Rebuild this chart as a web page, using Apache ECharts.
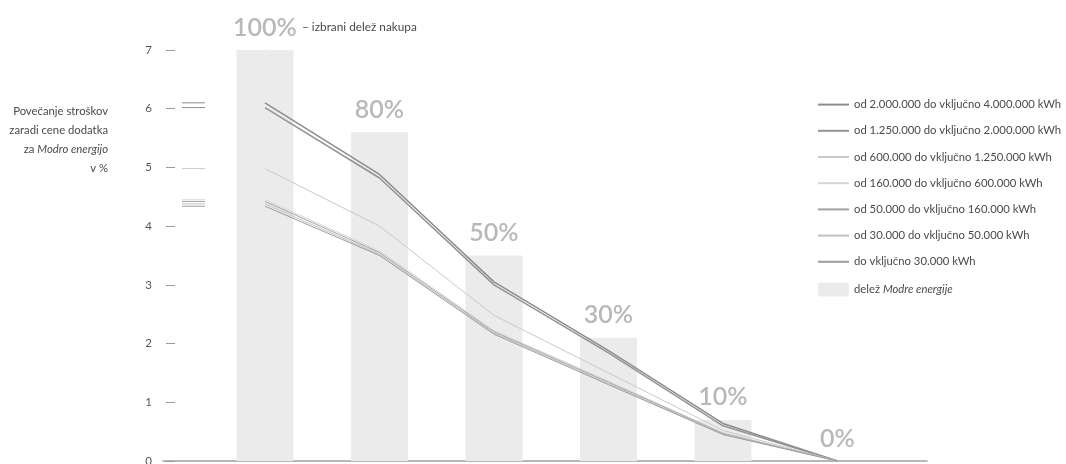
<!DOCTYPE html>
<html>
<head>
<meta charset="utf-8">
<style>
  html, body { margin: 0; padding: 0; background: #ffffff; }
  #chart { width: 1066px; height: 464px; }
</style>
<script src="https://cdn.jsdelivr.net/npm/echarts@6/dist/echarts.min.js"></script>
</head>
<body>
<div id="chart"></div>
<script>
// Share of "Modra energija" in the purchase (percent) – one bar per share
const shares = [100, 80, 50, 30, 10, 0];

// Cost increase in % for each consumption band, at each share
const band1 = [6.10, 4.88, 3.05, 1.88, 0.64, 0]; // 2.000.000 – 4.000.000 kWh
const band2 = [6.02, 4.82, 3.00, 1.84, 0.60, 0]; // 1.250.000 – 2.000.000 kWh
const band3 = [4.98, 4.00, 2.48, 1.50, 0.52, 0]; // 600.000 – 1.250.000 kWh
const band4 = [4.45, 3.58, 2.22, 1.36, 0.48, 0]; // 160.000 – 600.000 kWh
const band5 = [4.42, 3.55, 2.20, 1.34, 0.47, 0]; // 50.000 – 160.000 kWh
const band6 = [4.38, 3.52, 2.18, 1.32, 0.46, 0]; // 30.000 – 50.000 kWh
const band7 = [4.34, 3.50, 2.16, 1.30, 0.45, 0]; // do 30.000 kWh

const bandNames = [
  'od 2.000.000 do vključno 4.000.000 kWh',
  'od 1.250.000 do vključno 2.000.000 kWh',
  'od 600.000 do vključno 1.250.000 kWh',
  'od 160.000 do vključno 600.000 kWh',
  'od 50.000 do vključno 160.000 kWh',
  'od 30.000 do vključno 50.000 kWh',
  'do vključno 30.000 kWh'
];
const barName = 'delež Modre energije';
const yTicks = [0, 1, 2, 3, 4, 5, 6, 7];

// y-axis caption, one entry per line
const yCaption = ['Povečanje stroškov', 'zaradi cene dodatka', 'za {i|Modro energijo}', 'v %'];

const bands = [band1, band2, band3, band4, band5, band6, band7];
const bandColors = ['#8c8c8c', '#939393', '#c9c9c9', '#d6d6d6', '#a2a2a2', '#c2c2c2', '#9c9c9c'];
const bandWidths = [1.5, 1.5, 1, 1, 1, 1, 1];

const FONT = 'Lato, "Open Sans", sans-serif';
const TEXT = '#4a4a4a';
const SMALL = 11.3;
const yMax = 7;

// bar height: full bar (100 %) reaches the top of the scale
const barValues = shares.map((s, i) => [i, s / 100 * yMax]);

const lineSeries = bands.map((vals, k) => ({
  name: bandNames[k],
  type: 'line',
  xAxisIndex: 0,
  yAxisIndex: 0,
  symbol: 'none',
  smooth: false,
  z: 3,
  lineStyle: { color: bandColors[k], width: bandWidths[k] },
  itemStyle: { color: bandColors[k] },
  emphasis: { disabled: true },
  data: vals.map((v, i) => [i, v])
}));

// short marks beside the axis showing where each band starts (at 100 %)
const startMarks = {
  type: 'custom',
  xAxisIndex: 0,
  yAxisIndex: 0,
  z: 2,
  silent: true,
  data: bands.map((vals, k) => [0, vals[0], k]),
  renderItem: function (params, api) {
    const y = api.coord([0, api.value(1)])[1];
    const x0 = params.coordSys.x + 19;
    return {
      type: 'line',
      shape: { x1: x0, y1: y, x2: x0 + 23, y2: y },
      style: { stroke: bandColors[api.value(2)], lineWidth: 1 }
    };
  }
};

const captionGraphics = yCaption.map((line, k) => ({
  type: 'text',
  x: 108,
  y: 111 + k * 19,
  style: {
    text: line,
    align: 'right',
    verticalAlign: 'middle',
    fill: TEXT,
    fontSize: SMALL,
    fontFamily: FONT,
    rich: {
      i: { fontStyle: 'italic', fontSize: SMALL, fontFamily: FONT, fill: TEXT }
    }
  }
}));

const chart = echarts.init(document.getElementById('chart'), null, { renderer: 'canvas' });

chart.setOption({
  animation: false,
  backgroundColor: '#ffffff',
  textStyle: { fontFamily: FONT },
  grid: { left: 163, right: 1066 - 927, top: 50, bottom: 3, outerBoundsMode: 'none', containLabel: false },
  xAxis: {
    type: 'value',
    min: -0.891,
    max: 5.782,
    axisLine: { show: true, lineStyle: { color: '#a0a0a0', width: 1.5 } },
    axisTick: { show: false },
    axisLabel: { show: false },
    splitLine: { show: false }
  },
  yAxis: [
    {
      type: 'value', min: 0, max: yMax, interval: 1, position: 'left', offset: -16,
      axisLine: { show: true, lineStyle: { color: '#b4b4b4', width: 1 } },
      axisTick: { show: false }, axisLabel: { show: false }, splitLine: { show: false }
    },
    {
      type: 'value', min: 0, max: yMax, interval: 1, position: 'left', offset: -12,
      axisLine: { show: false },
      axisTick: { show: true, length: 9, lineStyle: { color: '#9a9a9a', width: 1 } },
      axisLabel: {
        show: true, margin: 23, color: '#555555', fontSize: 11.5, fontFamily: FONT,
        formatter: v => (yTicks.indexOf(v) >= 0 ? String(v) : '')
      },
      splitLine: { show: false }
    }
  ],
  legend: {
    orient: 'vertical',
    left: 812,
    top: 94,
    itemWidth: 31,
    itemHeight: 14,
    itemGap: 15,
    selectedMode: false,
    // line entries show only the stroke, no point marker
    data: bandNames.map(n => ({ name: n, itemStyle: { opacity: 0 } })).concat([{ name: barName }]),
    textStyle: {
      color: TEXT, fontSize: SMALL, fontFamily: FONT,
      rich: {
        n: { color: TEXT, fontSize: SMALL, fontFamily: FONT },
        i: { color: TEXT, fontSize: SMALL, fontFamily: FONT, fontStyle: 'italic' }
      }
    },
    formatter: function (name) {
      return name === barName ? '{n|delež }{i|Modre energije}' : name;
    }
  },
  series: [
    {
      name: barName,
      type: 'bar',
      xAxisIndex: 0,
      yAxisIndex: 0,
      barWidth: 57,
      z: 1,
      itemStyle: { color: '#ebebeb' },
      emphasis: { disabled: true },
      label: {
        show: true,
        position: 'top',
        distance: 10,
        color: '#b8b8b8',
        fontSize: 25,
        fontWeight: 600,
        fontFamily: FONT,
        formatter: p => shares[p.dataIndex] + '%'
      },
      data: barValues
    }
  ].concat(lineSeries, [startMarks]),
  graphic: captionGraphics.concat([
    {
      type: 'text',
      left: 302,
      top: 21,
      style: {
        text: '– izbrani delež nakupa',
        fill: TEXT,
        fontSize: 11.8,
        fontFamily: FONT
      }
    }
  ])
});
</script>
</body>
</html>
